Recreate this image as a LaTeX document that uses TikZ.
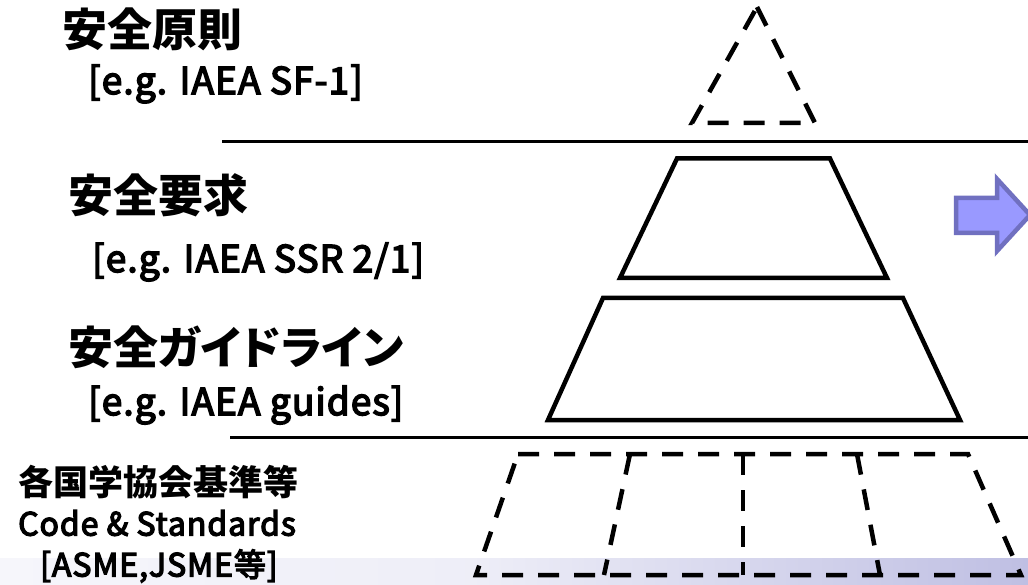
\documentclass[tikz,border=0pt]{standalone}
\usepackage{fontspec}
\newfontfamily\jfont{Noto Sans CJK JP}
\newfontfamily\jpfont[RawFeature=+palt]{Noto Sans CJK JP}
\newfontfamily\jsfont[FakeBold=4,LetterSpace=3]{Noto Sans CJK JP}
\usetikzlibrary{calc}
\definecolor{arrowfill}{RGB}{153,153,255}
\definecolor{arrowdraw}{RGB}{112,112,192}
\pgfdeclarehorizontalshading{bandshade}{100bp}{color(0bp)=(white); color(48bp)=(white!85!arrowdraw!80!white); color(100bp)=(arrowdraw!75!white)}
\begin{document}
\begin{tikzpicture}[x=1pt,y=-1pt,
  solidshape/.style={line width=4.5pt, line join=miter},
  dashshape/.style={line width=4.5pt, dash pattern=on 21pt off 15pt},
  rule/.style={line width=3pt},
  head/.style={anchor=west, inner sep=0pt, font=\jfont\bfseries\fontsize{45}{50}\selectfont},
  headp/.style={anchor=west, inner sep=0pt, font=\jpfont\bfseries\fontsize{45}{50}\selectfont},
  sub/.style={anchor=west, inner sep=0pt, font=\jsfont\fontsize{37}{40}\selectfont},
  small/.style={anchor=west, inner sep=0pt, font=\jfont\bfseries\fontsize{35}{40}\selectfont},
  codetxt/.style={anchor=west, inner sep=0pt, font=\jsfont\fontsize{32}{36}\selectfont}]
\useasboundingbox (0,0) rectangle (1028,585);
% gradient band
\shade[shading=bandshade] (0,558) rectangle (1028,585);
% triangle
\coordinate (tA) at (757,7);
\coordinate (tB) at (815,123);
\coordinate (tC) at (692,123);
\draw[dashshape] (tA) -- (tB) -- (tC) -- cycle;
% rule 1
\coordinate (r1a) at (222,141.5);
\coordinate (r1b) at (1028,141.5);
\draw[rule] (r1a) -- (r1b);
% trapezoid 1
\coordinate (p1) at (677,158.5);
\coordinate (p2) at (830,158.5);
\coordinate (p3) at (887,278);
\coordinate (p4) at (620,278);
\draw[solidshape] (p1) -- (p2) -- (p3) -- (p4) -- cycle;
% trapezoid 2
\coordinate (q1) at (603,298);
\coordinate (q2) at (903,298);
\coordinate (q3) at (960,420);
\coordinate (q4) at (548,420);
\draw[solidshape] (q1) -- (q2) -- (q3) -- (q4) -- cycle;
% rule 2
\coordinate (r2a) at (230,437);
\coordinate (r2b) at (1028,437);
\draw[rule] (r2a) -- (r2b);
% bottom dashed trapezoid
\coordinate (b1) at (518,454);
\coordinate (b2) at (968,454);
\coordinate (b3) at (1021,575);
\coordinate (b4) at (476,575);
\draw[dashshape] (b1) -- (b2) -- (b3) -- (b4) -- cycle;
\coordinate (d1t) at (630,454); \coordinate (d1b) at (604,575);
\coordinate (d2t) at (743,454); \coordinate (d2b) at (743,575);
\coordinate (d3t) at (857,454); \coordinate (d3b) at (880,575);
\draw[dashshape] (d1t) -- (d1b);
\draw[dashshape] (d2t) -- (d2b);
\draw[dashshape] (d3t) -- (d3b);
% block arrow
\draw[line width=4.5pt, draw=arrowdraw, fill=arrowfill, line join=miter]
  (956,198) -- (997,198) -- (997,179) -- (1030,215) -- (997,251) -- (997,233) -- (956,233) -- cycle;
% texts
\node[head] (t1) at (62,29) {安全原則};
\node[sub] (t1s) at (88,84) {[e.g. IAEA SF-1]};
\node[head] (t2) at (68,195) {安全要求};
\node[sub] (t2s) at (92,262) {[e.g. IAEA SSR 2/1]};
\node[headp] (t3) at (68,347) {安全ガイドライン};
\node[sub] (t3s) at (88,405) {[e.g. IAEA guides]};
\node[small] (t4) at (18,482) {各国学協会基準等};
\node[codetxt] (t4c) at (18,523) {Code \& Standards};
\node[codetxt] (t4s) at (40,566) {[ASME,JSME等]};
\end{tikzpicture}
\end{document}
